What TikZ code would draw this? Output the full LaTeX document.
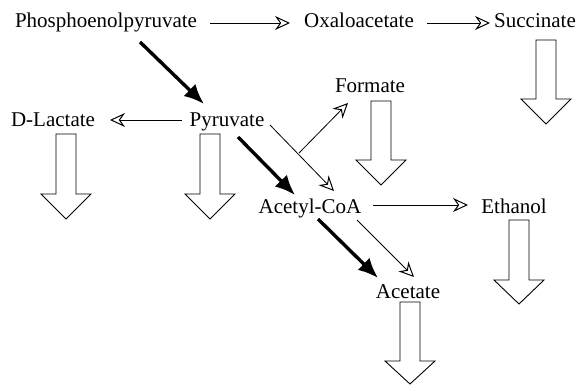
\documentclass[tikz,border=0pt]{standalone}
\usepackage{fontspec}
\setmainfont{Liberation Serif}
\usetikzlibrary{arrows.meta}
\newcommand{\bigdownarrow}[4]{%
  \draw[bigarrow] (#1-10,#2) -- (#1+10,#2) -- (#1+10,#3) -- (#1+25,#3) -- (#1,#4) -- (#1-25,#3) -- (#1-10,#3) -- cycle;}
\begin{document}
\begin{tikzpicture}[x=1pt,y=-1pt,
  lbl/.style={font=\fontsize{21}{21}\selectfont, inner sep=0pt, anchor=base},
  thinarrow/.style={line width=0.8pt, -{Stealth[open,length=15pt,width=14pt,inset=5pt,line width=1pt]}},
  thickarrow/.style={line width=3.4pt, -{Latex[length=20pt,width=17pt]}},
  bigarrow/.style={draw, line width=0.9pt, fill=white, line join=miter}]
\useasboundingbox (0,0) rectangle (581,385);
% labels
\node[lbl] (pep)  at (106,28)  {Phosphoenolpyruvate};
\node[lbl] (oxa)  at (359,28)  {Oxaloacetate};
\node[lbl] (succ) at (535,28)  {Succinate};
\node[lbl] (form) at (370,93)  {Formate};
\node[lbl] (dlac) at (53,127)  {D-Lactate};
\node[lbl] (pyr)  at (227,127) {Pyruvate};
\node[lbl] (acc)  at (310,213) {Acetyl-CoA};
\node[lbl] (eth)  at (514,213) {Ethanol};
\node[lbl] (ace)  at (408,298) {Acetate};
% connector end points
\coordinate (pepE)  at (210,23);
\coordinate (oxaW)  at (290,23);
\coordinate (oxaE)  at (427,23);
\coordinate (succW) at (490,23);
\coordinate (pyrW)  at (182,120);
\coordinate (dlacE) at (110,120);
\coordinate (accE)  at (373,205);
\coordinate (ethW)  at (468,205);
\coordinate (pepS)  at (140,42);
\coordinate (pyrN)  at (204,104);
\coordinate (pyrSE) at (238,137);
\coordinate (accNW) at (295,195);
\coordinate (pyrE)  at (270,125);
\coordinate (accN)  at (334,191);
\coordinate (branch) at (299,153);
\coordinate (formSW) at (348,103);
\coordinate (accS)  at (318,219);
\coordinate (aceNW) at (378,278);
\coordinate (accSE) at (357,220);
\coordinate (aceN)  at (414,277);
% thin arrows
\draw[thinarrow] (pepE) -- (oxaW);
\draw[thinarrow] (oxaE) -- (succW);
\draw[thinarrow] (pyrW) -- (dlacE);
\draw[thinarrow] (accE) -- (ethW);
\draw[thinarrow] (pyrE) -- (accN);
\draw[thinarrow] (branch) -- (formSW);
\draw[thinarrow] (accSE) -- (aceN);
% thick arrows
\draw[thickarrow] (pepS) -- (pyrN);
\draw[thickarrow] (pyrSE) -- (accNW);
\draw[thickarrow] (accS) -- (aceNW);
% big output arrows
\bigdownarrow{546}{40}{99}{124}
\bigdownarrow{381}{101}{160}{185}
\bigdownarrow{66}{134}{194}{219}
\bigdownarrow{210}{134}{194}{219}
\bigdownarrow{519}{220}{280}{304}
\bigdownarrow{410}{302}{361}{384}
\end{tikzpicture}
\end{document}
